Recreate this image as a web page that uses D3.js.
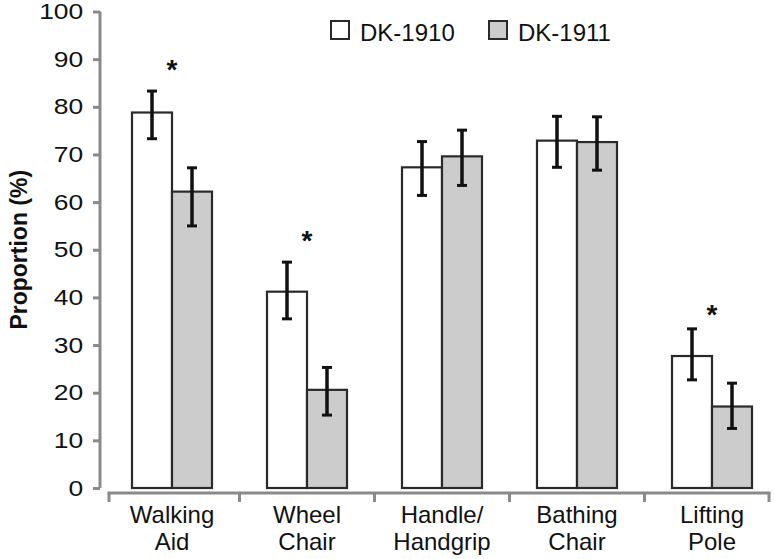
<!DOCTYPE html>
<html><head><meta charset="utf-8">
<script src="https://cdn.jsdelivr.net/npm/d3@7"></script>
<style>body{margin:0;background:#fff}svg{display:block}text{font-family:Arial,"Liberation Sans",sans-serif}</style>
</head><body>
<svg id="c" width="774" height="559"></svg>
<script>
const categories = [["Walking","Aid"],["Wheel","Chair"],["Handle/","Handgrip"],["Bathing","Chair"],["Lifting","Pole"]];
const seriesNames = ["DK-1910","DK-1911"];
const seriesColors = ["#ffffff","#cccccc"];
const dk1910 = [78.8, 41.2, 67.3, 72.9, 27.7];
const dk1910Lo = [73.3, 35.5, 61.4, 67.3, 22.7];
const dk1910Hi = [83.3, 47.4, 72.7, 78.0, 33.4];
const dk1911 = [62.2, 20.6, 69.6, 72.6, 17.1];
const dk1911Lo = [55.0, 15.3, 63.5, 66.7, 12.5];
const dk1911Hi = [67.2, 25.3, 75.1, 77.9, 22.0];
const starCats = [0, 1, 4];
const starValues = [88.8, 52.9, 37.4];
const yTicks = [0,10,20,30,40,50,60,70,80,90,100];

const svg = d3.select("#c");
const catKeys = categories.map(c => c.join(" "));
const x0 = d3.scaleBand().domain(catKeys).range([104.5, 779.5]).padding(0);
const x1 = d3.scaleBand().domain(seriesNames).range([27.5, 107.5]).padding(0);
const y = d3.scaleLinear().domain([0, 100]).range([488, 11.5]);
const axisColor = "#8a8a8a";

// Y axis
const yAxis = svg.append("g").attr("transform", "translate(100,0)")
  .call(d3.axisLeft(y).tickValues(yTicks).tickSize(7).tickPadding(9));
yAxis.select(".domain").attr("stroke", axisColor).attr("stroke-width", 3).attr("d", `M0,${y(100)}V${y(0)}`);
yAxis.selectAll(".tick line").attr("stroke", axisColor).attr("stroke-width", 3);
yAxis.selectAll(".tick text").attr("fill", "#111").style("font-size", "22px")
  .attr("transform", "scale(1.2,1)").attr("x", -14);

// y-axis title
svg.append("text").attr("transform", `translate(27,${y(50)}) rotate(-90)`)
  .attr("text-anchor", "middle").style("font-size", "23px").style("font-weight", "bold").attr("fill", "#111")
  .text("Proportion (%)");

// X axis (separate baseline with boundary ticks)
const xStart = 109, xEnd = 769, xAxisY = 493;
const bounds = [xStart].concat(catKeys.slice(1).map(k => x0(k))).concat([xEnd]);
const gx = svg.append("g");
gx.append("line").attr("x1", xStart - 1.5).attr("x2", xEnd + 1.5).attr("y1", xAxisY).attr("y2", xAxisY)
  .attr("stroke", axisColor).attr("stroke-width", 3);
gx.selectAll("line.t").data(bounds).join("line").attr("class","t")
  .attr("x1", d => d).attr("x2", d => d).attr("y1", xAxisY).attr("y2", xAxisY + 9)
  .attr("stroke", axisColor).attr("stroke-width", 3);

// category labels
const labels = svg.append("g");
categories.forEach((c, i) => {
  const cx = x0(catKeys[i]) + x1.range()[0] + (x1.range()[1]-x1.range()[0]) / 2;
  const t = labels.append("text").attr("x", cx).attr("y", 523).attr("text-anchor", "middle")
    .style("font-size", "24px").attr("fill", "#111");
  c.forEach((line, j) => t.append("tspan").attr("x", cx).attr("dy", j ? 27 : 0).text(line));
});

// bars
const data = catKeys.map((k, i) => ({
  k,
  vals: [
    {s: seriesNames[0], v: dk1910[i], lo: dk1910Lo[i], hi: dk1910Hi[i], c: seriesColors[0]},
    {s: seriesNames[1], v: dk1911[i], lo: dk1911Lo[i], hi: dk1911Hi[i], c: seriesColors[1]}
  ]
}));
const groups = svg.append("g").selectAll("g").data(data).join("g")
  .attr("transform", d => `translate(${x0(d.k)},0)`);
groups.selectAll("rect").data(d => d.vals).join("rect")
  .attr("x", d => x1(d.s)).attr("width", x1.bandwidth())
  .attr("y", d => y(d.v)).attr("height", d => y(0) - y(d.v))
  .attr("fill", d => d.c).attr("stroke", "#2a2a2a").attr("stroke-width", 2.2);
// error bars
const eb = groups.selectAll("g.e").data(d => d.vals).join("g").attr("class","e")
  .attr("transform", d => `translate(${x1(d.s) + x1.bandwidth()/2},0)`);
eb.append("line").attr("y1", d => y(d.lo)).attr("y2", d => y(d.hi)).attr("stroke", "#111").attr("stroke-width", 3.5);
eb.append("line").attr("x1", -5).attr("x2", 5).attr("y1", d => y(d.hi)).attr("y2", d => y(d.hi)).attr("stroke", "#111").attr("stroke-width", 3);
eb.append("line").attr("x1", -5).attr("x2", 5).attr("y1", d => y(d.lo)).attr("y2", d => y(d.lo)).attr("stroke", "#111").attr("stroke-width", 3);

// stars
svg.append("g").selectAll("text").data(starCats).join("text")
  .attr("x", (c) => x0(catKeys[c]) + 67.5)
  .attr("y", (c, i) => y(starValues[i]) + 14)
  .attr("text-anchor", "middle").style("font-size", "28px").style("font-weight", "bold").attr("fill", "#111").text("*");

// legend
const legend = svg.append("g");
const legX = [331, 489];
seriesNames.forEach((s, i) => {
  legend.append("rect").attr("x", legX[i]).attr("y", 21).attr("width", 18).attr("height", 18)
    .attr("fill", seriesColors[i]).attr("stroke", "#2a2a2a").attr("stroke-width", 2);
  legend.append("text").attr("x", legX[i] + 29).attr("y", 40.5).style("font-size", "24px").attr("fill", "#111").text(s);
});
</script>
</body></html>
